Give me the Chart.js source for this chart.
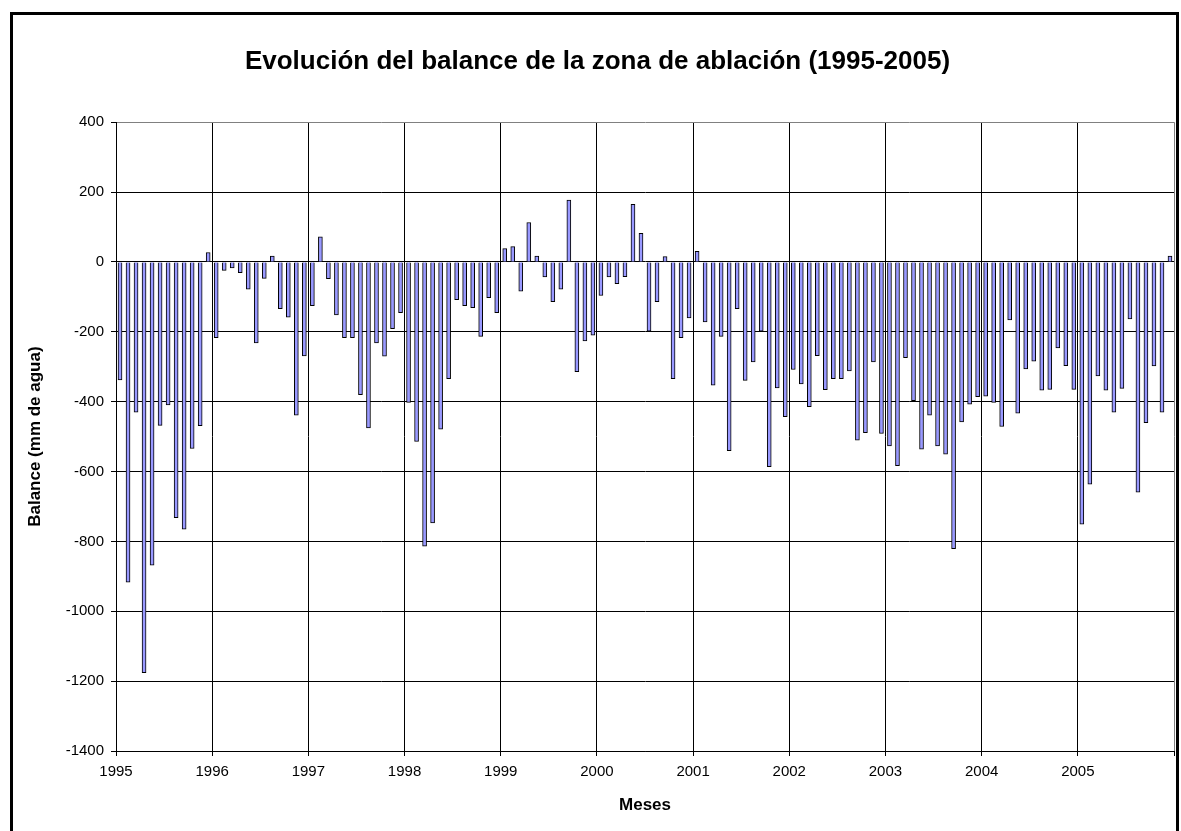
<!DOCTYPE html>
<html>
<head>
<meta charset="utf-8">
<script src="https://cdn.jsdelivr.net/npm/chart.js@4/dist/chart.umd.min.js"></script>
<style>
    html, body { margin: 0; padding: 0; background: #fff; }
    canvas { display: block; }
</style>
</head>
<body>
<canvas id="balanceChart" width="1181" height="831"></canvas>
<script>
// Monthly balance (mm de agua), one array per year, Jan..Dec
const balance1995 = [-338, -917, -430, -1176, -868, -468, -409, -732, -765, -534, -469, 27];
const balance1996 = [-217, -24, -17, -31, -78, -232, -47, 17, -134, -158, -439, -269];
const balance1997 = [-125, 72, -48, -152, -217, -217, -380, -475, -232, -270, -191, -145];
const balance1998 = [-402, -514, -814, -747, -479, -334, -108, -125, -131, -213, -102, -145];
const balance1999 = [38, 44, -84, 113, 17, -43, -114, -78, 177, -314, -226, -210];
const balance2000 = [-96, -43, -62, -42, 165, 82, -198, -114, 15, -334, -217, -160];
const balance2001 = [30, -172, -353, -213, -540, -134, -339, -286, -198, -586, -361, -443];
const balance2002 = [-308, -349, -414, -268, -366, -334, -334, -312, -510, -489, -286, -491];
const balance2003 = [-527, -583, -274, -397, -536, -439, -527, -550, -821, -458, -407, -386];
const balance2004 = [-384, -402, -471, -166, -433, -306, -284, -367, -365, -246, -297, -365];
const balance2005 = [-751, -636, -326, -367, -430, -362, -163, -659, -460, -298, -430, 17];

const yearLabels = ['1995', '1996', '1997', '1998', '1999', '2000', '2001', '2002', '2003', '2004', '2005'];
const yTicks = [400, 200, 0, -200, -400, -600, -800, -1000, -1200, -1400];

const balance = [].concat(balance1995, balance1996, balance1997, balance1998, balance1999,
    balance2000, balance2001, balance2002, balance2003, balance2004, balance2005);

// month i sits in the middle of its slot on a linear month axis
const points = balance.map((v, i) => ({ x: i + 0.5, y: v }));

const FONT = "'Liberation Sans', Arial, sans-serif";

// outer frame around the whole chart
const framePlugin = {
    id: 'frame',
    afterDraw(chart) {
        const ctx = chart.ctx;
        ctx.save();
        ctx.strokeStyle = '#000';
        ctx.lineWidth = 3;
        ctx.strokeRect(11.5, 13.5, 1166, 840);
        ctx.restore();
    }
};

const ctx = document.getElementById('balanceChart').getContext('2d');
new Chart(ctx, {
    type: 'bar',
    data: {
        datasets: [{
            label: 'Balance',
            data: points,
            backgroundColor: '#9999FF',
            borderColor: '#000',
            borderWidth: 1,
            barThickness: 4
        }]
    },
    options: {
        responsive: false,
        animation: false,
        layout: { padding: { left: 20, right: 6, top: 0, bottom: 10 } },
        plugins: {
            legend: { display: false },
            tooltip: { enabled: false },
            title: {
                display: true,
                text: 'Evolución del balance de la zona de ablación (1995-2005)',
                color: '#000',
                font: { family: FONT, size: 26, weight: 'bold' },
                padding: { top: 46, bottom: 45 }
            }
        },
        scales: {
            x: {
                type: 'linear',
                min: 0,
                max: yearLabels.length * 12,
                offset: false,
                afterFit(scale) { scale.height = 70; },
                afterBuildTicks(scale) {
                    scale.ticks = [];
                    for (let m = 0; m <= yearLabels.length * 12; m += 12) scale.ticks.push({ value: m });
                },
                ticks: {
                    autoSkip: false,
                    maxRotation: 0,
                    padding: 7,
                    color: '#000',
                    font: { family: FONT, size: 15 },
                    callback: v => yearLabels[v / 12] || ''
                },
                grid: {
                    offset: false,
                    color: c => (c.tick && c.tick.value === yearLabels.length * 12) ? '#808080' : '#000',
                    tickLength: 5,
                    tickColor: '#000'
                },
                border: { color: '#000', width: 1 },
                title: {
                    display: true,
                    text: 'Meses',
                    color: '#000',
                    font: { family: FONT, size: 17, weight: 'bold' },
                    padding: { top: 0, bottom: 5 }
                }
            },
            y: {
                min: yTicks[yTicks.length - 1],
                max: yTicks[0],
                afterFit(scale) { scale.width = 96; },
                afterBuildTicks(scale) {
                    scale.ticks = yTicks.map(v => ({ value: v }));
                },
                ticks: {
                    padding: 7,
                    color: '#000',
                    font: { family: FONT, size: 15 },
                    callback: v => String(v)
                },
                grid: {
                    color: c => (c.tick && c.tick.value === yTicks[0]) ? '#808080' : '#000',
                    tickLength: 5,
                    tickColor: '#000'
                },
                border: { color: '#000', width: 1 },
                title: {
                    display: true,
                    text: 'Balance (mm de agua)',
                    color: '#000',
                    font: { family: FONT, size: 17, weight: 'bold' },
                    padding: { top: 5, bottom: 0 }
                }
            }
        }
    },
    plugins: [framePlugin]
});
</script>
</body>
</html>
